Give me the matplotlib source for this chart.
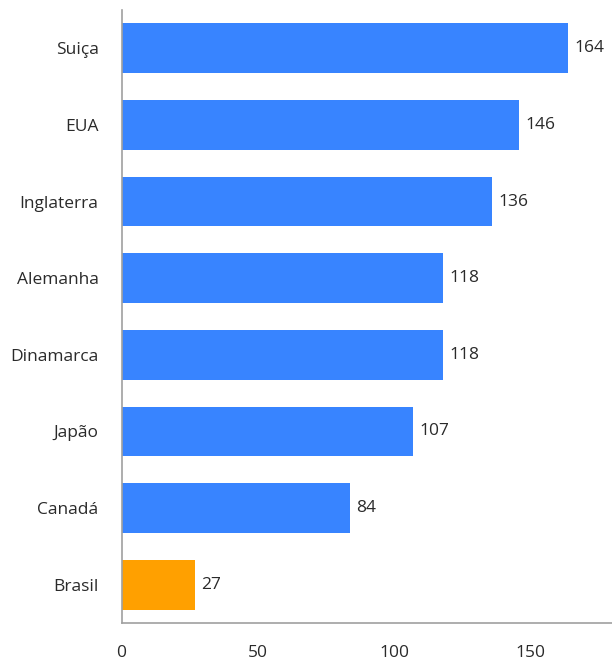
import matplotlib.pyplot as plt

countries = ["Suiça", "EUA", "Inglaterra", "Alemanha", "Dinamarca", "Japão", "Canadá", "Brasil"]
values = [164, 146, 136, 118, 118, 107, 84, 27]
colors = ["#3884ff"] * 7 + ["#ffa000"]
xticks = [0, 50, 100, 150]

plt.rcParams['font.family'] = ['Open Sans', 'DejaVu Sans']

fig = plt.figure(figsize=(6.12, 6.62), dpi=100)
ax = fig.add_axes([121.5 / 612, 39 / 662, (612 - 121.5) / 612, 613 / 662])

ypos = range(len(countries))
ax.barh(ypos, values, height=0.65, color=colors)
for y, v in zip(ypos, values):
    ax.text(v + 2.2, y, str(v), va="center", ha="left", fontsize=12.5, color="#2a2a2a")

ax.set_yticks(list(ypos))
ax.set_yticklabels(countries, fontsize=12.5, color="#2a2a2a")
ax.set_xticks(xticks)
ax.set_xticklabels([str(t) for t in xticks], fontsize=12.5, color="#2a2a2a")
ax.set_xlim(0, 180)
ax.set_ylim(7.5, -0.5)
ax.tick_params(axis="both", length=0)
ax.tick_params(axis="y", pad=16.5)
ax.tick_params(axis="x", pad=16)

for s in ["top", "right"]:
    ax.spines[s].set_visible(False)
for s in ["left", "bottom"]:
    ax.spines[s].set_color("#a0a0a0")
    ax.spines[s].set_linewidth(1.2)

fig.savefig("out.png", dpi=100)
